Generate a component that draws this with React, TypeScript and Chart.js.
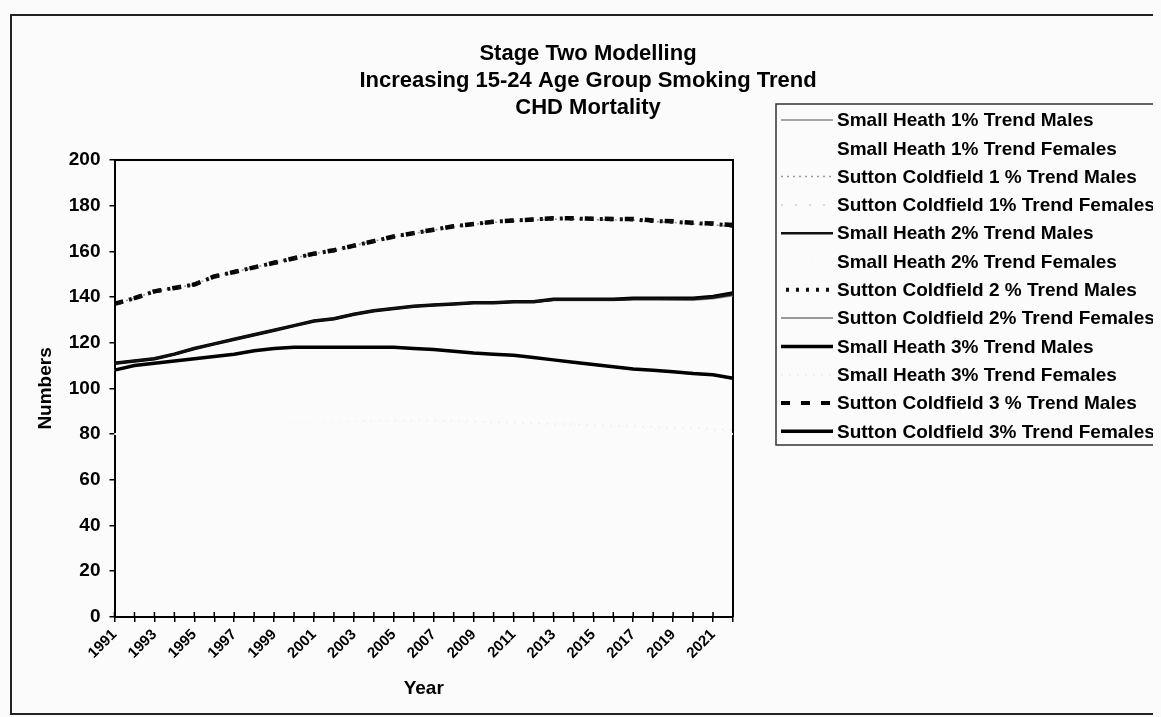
import React, { useEffect, useRef } from 'react';
import { Chart, registerables } from 'chart.js';

Chart.register(...registerables);

const FONT = "'Liberation Sans', Arial, Helvetica, sans-serif";

const titleLines = [
  'Stage Two Modelling',
  'Increasing 15-24 Age Group Smoking Trend',
  'CHD Mortality',
];

const years = [
  '1991', '1992', '1993', '1994', '1995', '1996', '1997', '1998', '1999', '2000',
  '2001', '2002', '2003', '2004', '2005', '2006', '2007', '2008', '2009', '2010',
  '2011', '2012', '2013', '2014', '2015', '2016', '2017', '2018', '2019', '2020',
  '2021', '2022',
];

const yTicks = [0, 20, 40, 60, 80, 100, 120, 140, 160, 180, 200];

const smallHeath1Males = [111, 112, 113, 115, 117.5, 119.5, 121.5, 123.5, 125.5, 127.5, 129.5, 130.5, 132.5, 134, 135, 136, 136.5, 137, 137.4, 137.4, 137.8, 137.8, 138.5, 138.6, 138.5, 138.5, 138.9, 138.8, 138.7, 138.6, 139.3, 140.6];
const smallHeath1Females = [80, 80.5, 81, 81.5, 82, 82.5, 83, 83.5, 84, 84, 84.5, 84.5, 85, 85, 85, 85, 85, 84.5, 84.5, 84, 84, 83.5, 83, 83, 82.5, 82, 82, 81.5, 81, 81, 80.5, 80];
const sutton1Males = [137, 139.5, 142.5, 144, 145.5, 149, 151, 153, 155, 157, 159, 160.5, 162.5, 164.5, 166.3, 167.8, 169.3, 170.8, 171.8, 172.7, 173.2, 173.7, 174.1, 174.1, 173.9, 173.8, 173.7, 173, 172.7, 172, 171.6, 170.9];
const sutton1Females = [108, 110, 111, 112, 113, 114, 115, 116.5, 117.5, 118, 118, 118, 118, 118, 117.9, 117.4, 116.9, 116.1, 115.3, 114.8, 114.2, 113.2, 112.2, 111.2, 110.1, 109.1, 108.1, 107.6, 106.9, 106.1, 105.5, 104];
const smallHeath2Males = [111, 112, 113, 115, 117.5, 119.5, 121.5, 123.5, 125.5, 127.5, 129.5, 130.5, 132.5, 134, 135, 136, 136.5, 137, 137.5, 137.5, 138, 138, 138.8, 138.8, 138.8, 138.8, 139.2, 139.2, 139.1, 139.1, 139.8, 141.2];
const smallHeath2Females = [80, 80.5, 81, 81.5, 82, 82.5, 83, 83.5, 84, 84.2, 84.7, 84.8, 85.3, 85.3, 85.4, 85.4, 85.4, 85, 85, 84.5, 84.5, 84, 83.6, 83.6, 83.1, 82.7, 82.7, 82.2, 81.7, 81.7, 81.3, 80.8];
const sutton2Males = [137, 139.5, 142.5, 144, 145.5, 149, 151, 153, 155, 157, 159, 160.5, 162.5, 164.5, 166.5, 168, 169.5, 171, 172, 173, 173.5, 174, 174.4, 174.4, 174.2, 174.1, 174, 173.3, 173, 172.3, 172, 171.2];
const sutton2Females = [108, 110, 111, 112, 113, 114, 115, 116.5, 117.5, 118, 118, 118, 118, 118, 118, 117.5, 117, 116.2, 115.4, 114.9, 114.4, 113.4, 112.4, 111.4, 110.3, 109.3, 108.3, 107.8, 107.1, 106.3, 105.8, 104.3];
const smallHeath3Males = [111, 112, 113, 115, 117.5, 119.5, 121.5, 123.5, 125.5, 127.5, 129.5, 130.5, 132.5, 134, 135, 136, 136.5, 137, 137.5, 137.5, 138, 138, 139, 139, 139, 139, 139.5, 139.5, 139.5, 139.5, 140.3, 141.8];
const smallHeath3Females = [80, 80.5, 81, 81.5, 82, 82.5, 83, 83.5, 84, 84.4, 84.9, 85.1, 85.6, 85.7, 85.8, 85.9, 86, 85.6, 85.6, 85.2, 85.2, 84.8, 84.4, 84.4, 84, 83.6, 83.6, 83.1, 82.7, 82.7, 82.3, 81.8];
const sutton3Males = [137, 139.5, 142.5, 144, 145.5, 149, 151, 153, 155, 157, 159, 160.5, 162.5, 164.5, 166.5, 168, 169.5, 171, 172, 173, 173.5, 174, 174.5, 174.5, 174.3, 174.2, 174.2, 173.5, 173.2, 172.5, 172.2, 171.5];
const sutton3Females = [108, 110, 111, 112, 113, 114, 115, 116.5, 117.5, 118, 118, 118, 118, 118, 118, 117.5, 117, 116.3, 115.5, 115, 114.5, 113.5, 112.5, 111.5, 110.5, 109.5, 108.5, 108, 107.3, 106.5, 106, 104.5];

const seriesLabels = [
  'Small Heath 1% Trend Males',
  'Small Heath 1% Trend Females',
  'Sutton Coldfield 1 % Trend Males',
  'Sutton Coldfield 1% Trend Females',
  'Small Heath 2% Trend Males',
  'Small Heath 2% Trend Females',
  'Sutton Coldfield 2 % Trend Males',
  'Sutton Coldfield 2% Trend Females',
  'Small Heath 3% Trend Males',
  'Small Heath 3% Trend Females',
  'Sutton Coldfield 3 % Trend Males',
  'Sutton Coldfield 3% Trend Females',
];

const seriesValues = [
  smallHeath1Males, smallHeath1Females, sutton1Males, sutton1Females,
  smallHeath2Males, smallHeath2Females, sutton2Males, sutton2Females,
  smallHeath3Males, smallHeath3Females, sutton3Males, sutton3Females,
];

const seriesStyles = [
  { color: '#8a8a8a', width: 1.5, dash: [], offset: 0, order: 1 },
  { color: '#fbfbfb', width: 2, dash: [], offset: 0, order: 2 },
  { color: '#9a9a9a', width: 1.5, dash: [2, 4], offset: 0, order: 1 },
  { color: '#d4d4d4', width: 1.5, dash: [2, 12], offset: 0, order: 2 },
  { color: '#111111', width: 2.5, dash: [], offset: 0, order: 0 },
  { color: '#f6f6f6', width: 1.5, dash: [2, 8], offset: 0, order: 2 },
  { color: '#111111', width: 4, dash: [3, 7], offset: 5, order: 0 },
  { color: '#777777', width: 1.5, dash: [], offset: 0, order: 1 },
  { color: '#000000', width: 3.5, dash: [], offset: 0, order: 0 },
  { color: '#efefef', width: 1.5, dash: [2, 6], offset: 0, order: 2 },
  { color: '#000000', width: 4.5, dash: [9, 11], offset: 0, order: 0 },
  { color: '#000000', width: 3.5, dash: [], offset: 0, order: 0 },
];

const decorPlugin = {
  id: 'decor',
  beforeDraw(chart: any) {
    const { ctx } = chart;
    ctx.save();
    // outer frame
    ctx.strokeStyle = '#222';
    ctx.lineWidth = 2;
    ctx.beginPath();
    ctx.moveTo(chart.width + 5, 7);
    ctx.lineTo(3, 7);
    ctx.lineTo(3, 706);
    ctx.lineTo(chart.width + 5, 706);
    ctx.stroke();
    // title
    ctx.fillStyle = '#000';
    ctx.font = `bold 22px ${FONT}`;
    ctx.textAlign = 'center';
    ctx.textBaseline = 'middle';
    titleLines.forEach((t, i) => ctx.fillText(t, 580, 46 + i * 27));
    ctx.restore();
  },
  beforeDatasetsDraw(chart: any) {
    const { ctx, chartArea: a } = chart;
    ctx.save();
    ctx.strokeStyle = '#000';
    ctx.lineWidth = 2;
    ctx.beginPath();
    ctx.moveTo(a.left, a.top);
    ctx.lineTo(a.right, a.top);
    ctx.lineTo(a.right, a.bottom);
    ctx.stroke();
    // inner half of the crossing x tick marks
    const xs = chart.scales.x;
    ctx.lineWidth = 1.5;
    ctx.beginPath();
    for (let i = 0; i < years.length; i++) {
      const x = xs.getPixelForValue(i);
      ctx.moveTo(x, a.bottom);
      ctx.lineTo(x, a.bottom - 5);
    }
    ctx.stroke();
    ctx.restore();
  },
  afterDraw(chart: any) {
    const { ctx } = chart;
    const ds = chart.data.datasets;
    ctx.save();
    ctx.strokeStyle = '#333';
    ctx.lineWidth = 1.5;
    ctx.strokeRect(768, 96, 420, 341);
    ctx.font = `bold 19px ${FONT}`;
    ctx.textAlign = 'left';
    ctx.textBaseline = 'middle';
    ds.forEach((d: any, i: number) => {
      const y = 112 + i * 28.3;
      ctx.save();
      ctx.strokeStyle = d.borderColor;
      ctx.lineWidth = Math.min(d.borderWidth, 4);
      ctx.setLineDash(d.borderDash || []);
      ctx.lineDashOffset = d.borderDashOffset || 0;
      ctx.beginPath();
      ctx.moveTo(773, y);
      ctx.lineTo(825, y);
      ctx.stroke();
      ctx.restore();
      ctx.fillStyle = '#000';
      ctx.fillText(d.label, 829, y + 1);
    });
    ctx.restore();
  },
};

export default function App() {
  const ref = useRef<HTMLCanvasElement>(null);

  useEffect(() => {
    document.body.style.background = '#fbfbfb';
    const datasets = seriesLabels.map((label, i) => ({
      label,
      data: seriesValues[i],
      borderColor: seriesStyles[i].color,
      backgroundColor: seriesStyles[i].color,
      borderWidth: seriesStyles[i].width,
      borderDash: seriesStyles[i].dash,
      borderDashOffset: seriesStyles[i].offset,
      order: seriesStyles[i].order,
      pointRadius: 0,
      tension: 0,
      fill: false,
    }));

    const chart = new Chart(ref.current as HTMLCanvasElement, {
      type: 'line',
      data: { labels: years, datasets },
      options: {
        responsive: false,
        animation: false,
        layout: { padding: { left: 14, right: 428, top: 152, bottom: 13 } },
        plugins: {
          legend: { display: false },
          title: { display: false },
          tooltip: { enabled: false },
        },
        scales: {
          x: {
            offset: false,
            ticks: {
              autoSkip: false,
              maxRotation: 45,
              minRotation: 45,
              padding: 4,
              color: '#000',
              font: { family: FONT, size: 15, weight: 'bold' },
              callback: (_v: any, i: number) => (i % 2 === 0 ? years[i] : ''),
            },
            grid: { display: true, drawOnChartArea: false, drawTicks: true, tickLength: 5, color: '#000', lineWidth: 1.5 },
            border: { display: true, color: '#000', width: 2 },
            title: {
              display: true,
              text: 'Year',
              color: '#000',
              font: { family: FONT, size: 19, weight: 'bold' },
              padding: { top: 11, bottom: 4 },
            },
          },
          y: {
            min: 0,
            max: 200,
            afterBuildTicks: (scale: any) => {
              scale.ticks = yTicks.map((v) => ({ value: v }));
            },
            ticks: {
              color: '#000',
              padding: 9,
              font: { family: FONT, size: 19, weight: 'bold' },
            },
            grid: { display: true, drawOnChartArea: false, drawTicks: true, tickLength: 5, color: '#000', lineWidth: 1.5 },
            border: { display: true, color: '#000', width: 2 },
            title: {
              display: true,
              text: 'Numbers',
              color: '#000',
              font: { family: FONT, size: 19, weight: 'bold' },
              padding: { top: 12.5, bottom: 2.5 },
            },
          },
        },
      },
      plugins: [decorPlugin],
    } as any);

    return () => chart.destroy();
  }, []);

  return (
    <div style={{ width: 1153, height: 709, background: '#fbfbfb' }}>
      <canvas ref={ref} width={1153} height={709} />
    </div>
  );
}
